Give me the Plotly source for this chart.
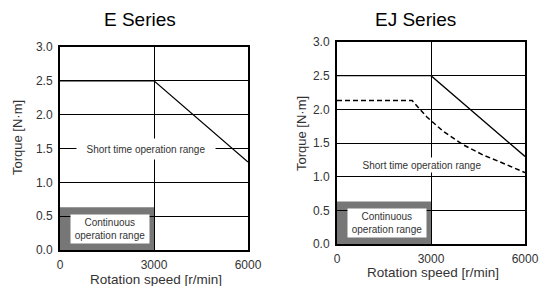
import plotly.graph_objects as go

# ---- data ----
speed_ticks = [0, 3000, 6000]
torque_ticks = [0.0, 0.5, 1.0, 1.5, 2.0, 2.5, 3.0]
torque_tick_text = ["0.0", "0.5", "1.0", "1.5", "2.0", "2.5", "3.0"]

e_speed = [0, 3000, 6000]
e_torque = [2.5, 2.5, 1.3]

ej_speed = [0, 3000, 6000]
ej_torque = [2.5, 2.5, 1.3]

ej_dash_speed = [0, 2400, 2860, 3400, 4000, 4670, 5300, 6000]
ej_dash_torque = [2.13, 2.13, 1.89, 1.67, 1.48, 1.32, 1.20, 1.06]

cont_speed_max = 3000
cont_torque_max = 0.63

titles = ["E Series", "EJ Series"]
short_label = "Short time operation range"
cont_label = "Continuous<br>operation range"
x_title = "Rotation speed [r/min]"
y_title = "Torque [N·m]"

W, H = 539, 286
FONT = "Liberation Sans, Arial, sans-serif"

# window-pixel boxes of the two plot areas (left, right, top, bottom)
boxes = [(60, 248, 47, 250), (337, 525, 42, 244)]


def px_x(v):
    return v / W


def px_y(v):
    return (H - v) / H


fig = go.Figure()

fig.add_trace(go.Scatter(x=e_speed, y=e_torque, mode="lines",
                         line=dict(color="black", width=1.3),
                         xaxis="x", yaxis="y", showlegend=False, hoverinfo="skip"))
fig.add_trace(go.Scatter(x=ej_speed, y=ej_torque, mode="lines",
                         line=dict(color="black", width=1.3),
                         xaxis="x2", yaxis="y2", showlegend=False, hoverinfo="skip"))
fig.add_trace(go.Scatter(x=ej_dash_speed, y=ej_dash_torque, mode="lines",
                         line=dict(color="black", width=1.5, dash="5px,3px"),
                         xaxis="x2", yaxis="y2", showlegend=False, hoverinfo="skip"))

axis_common = dict(
    showline=True, linecolor="black", linewidth=2, mirror=True,
    showgrid=True, gridcolor="black", gridwidth=1.3,
    zeroline=False, ticks="", ticklabelstandoff=3, automargin=False,
    tickfont=dict(family=FONT, size=12, color="#333333"),
    fixedrange=True,
)

layout = dict(width=W, height=H, margin=dict(l=0, r=0, t=0, b=0, autoexpand=False),
              paper_bgcolor="white", plot_bgcolor="white",
              font=dict(family=FONT), showlegend=False)

for i, (l, r, t, b) in enumerate(boxes):
    sx = "" if i == 0 else str(i + 1)
    layout["xaxis" + sx] = dict(axis_common, domain=[px_x(l), px_x(r)],
                                range=[0, 6000], tickvals=speed_ticks,
                                anchor="y" + sx)
    layout["yaxis" + sx] = dict(axis_common, domain=[px_y(b), px_y(t)],
                                range=[0, 3.0], tickvals=torque_ticks,
                                ticktext=torque_tick_text, anchor="x" + sx)

fig.update_layout(**layout)

shapes = []
annotations = []
title_pos = [(140, 19), (415, 19)]
ytitle_pos = [(17, 138), (301, 134)]
xtitle_pos = [(156, 279), (433, 272)]
short_pos = [(2751, 1.5), (2703, 1.18)]

for i in range(2):
    sx = "" if i == 0 else str(i + 1)
    xr, yr = "x" + sx, "y" + sx
    shapes.append(dict(type="rect", xref=xr, yref=yr, x0=0, x1=cont_speed_max,
                       y0=0, y1=cont_torque_max, fillcolor="#777777",
                       line=dict(width=0), layer="below"))
    annotations.append(dict(xref=xr, yref=yr, x=1585, y=0.315, text=cont_label,
                            showarrow=False, bgcolor="white", width=76, height=26,
                            borderpad=1, font=dict(family=FONT, size=10, color="#333333")))
    annotations.append(dict(xref=xr, yref=yr, x=short_pos[i][0], y=short_pos[i][1],
                            text=short_label, showarrow=False, bgcolor="white",
                            width=136 if i == 0 else 124, height=18 if i == 0 else 12,
                            borderpad=1, font=dict(family=FONT, size=10, color="#333333")))
    annotations.append(dict(xref="paper", yref="paper", x=px_x(title_pos[i][0]),
                            y=px_y(title_pos[i][1]), text=titles[i], showarrow=False,
                            xanchor="center", yanchor="middle",
                            font=dict(family=FONT, size=19, color="black")))
    annotations.append(dict(xref="paper", yref="paper", x=px_x(ytitle_pos[i][0]),
                            y=px_y(ytitle_pos[i][1]), text=y_title, showarrow=False,
                            textangle=-90, xanchor="center", yanchor="middle",
                            font=dict(family=FONT, size=13, color="#333333")))
    annotations.append(dict(xref="paper", yref="paper", x=px_x(xtitle_pos[i][0]),
                            y=px_y(xtitle_pos[i][1]), text=x_title, showarrow=False,
                            xanchor="center", yanchor="middle",
                            font=dict(family=FONT, size=13.5, color="#333333")))

fig.update_layout(shapes=shapes, annotations=annotations)
fig.write_html(
    "out.html",
    config={"displayModeBar": False},
    post_script="document.body.style.margin='0';document.body.style.overflow='hidden';",
)
